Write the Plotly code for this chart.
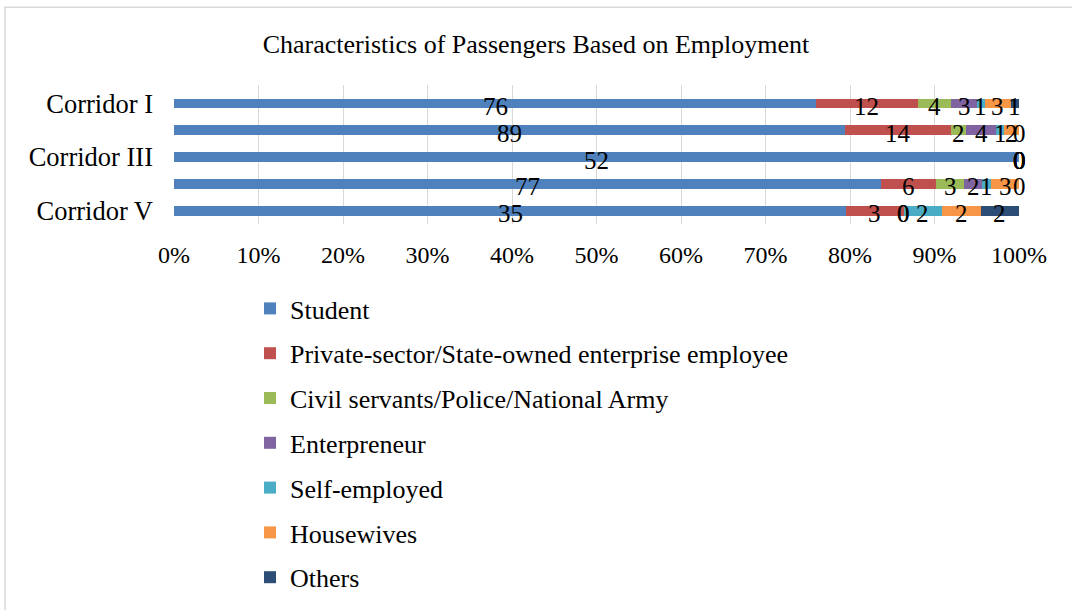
import plotly.graph_objects as go

# Passenger counts by employment type for each corridor
corridors = ["Corridor I", "Corridor II", "Corridor III", "Corridor IV", "Corridor V"]
shown_ticks = ["Corridor I", "Corridor III", "Corridor V"]

student = [76, 89, 52, 77, 35]
private_sector = [12, 14, 0, 6, 3]
civil_servants = [4, 2, 0, 3, 0]
entrepreneur = [3, 4, 0, 2, 0]
self_employed = [1, 1, 0, 1, 2]
housewives = [3, 2, 0, 3, 2]
others = [1, 0, 0, 0, 2]

series_names = [
    "Student",
    "Private-sector/State-owned enterprise employee",
    "Civil servants/Police/National Army",
    "Enterpreneur",
    "Self-employed",
    "Housewives",
    "Others",
]
series_values = [student, private_sector, civil_servants, entrepreneur,
                 self_employed, housewives, others]
colors = ["#4F81BD", "#C0504D", "#9BBB59", "#8064A2", "#4BACC6", "#F79646", "#2C4D75"]

pct_ticks = list(range(0, 101, 10))
pct_labels = [f"{t}%" for t in pct_ticks]

FONT = "Liberation Serif, Times New Roman, serif"

fig = go.Figure()
for name, vals, col in zip(series_names, series_values, colors):
    fig.add_trace(go.Bar(
        y=corridors, x=vals, name=name, orientation="h",
        marker=dict(color=col, line=dict(width=0)),
        legendgroup=name, hoverinfo="x+y+name",
    ))

# Centred value labels on each segment (positions follow the 100% stacking)
annotations = []
for i, cor in enumerate(corridors):
    total = sum(v[i] for v in series_values)
    cum = 0.0
    for vals in series_values:
        share = vals[i] / total * 100
        annotations.append(dict(
            x=cum + share / 2, y=cor, xref="x", yref="y",
            text=str(vals[i]), showarrow=False, yshift=-3,
            font=dict(family=FONT, size=25, color="#000000"),
        ))
        cum += share

# Plot-area geometry in pixels, used to place the outer frame
W, H = 1072, 610
L, R, T, B = 174, 1019, 85, 224.5
pw, ph = R - L, B - T

fig.update_layout(
    width=W, height=H,
    margin=dict(l=L, r=W - R, t=T, b=H - B, autoexpand=False),
    paper_bgcolor="white", plot_bgcolor="white",
    barmode="stack", barnorm="percent", bargap=0.63,
    title=dict(text="Characteristics of Passengers Based on Employment",
               x=0.5, xanchor="center", y=1 - 44 / H, yanchor="middle",
               font=dict(family=FONT, size=26, color="#000000")),
    font=dict(family=FONT, size=26, color="#000000"),
    xaxis=dict(range=[0, 100], tickvals=pct_ticks, ticktext=pct_labels,
               showgrid=True, gridcolor="#D9D9D9", gridwidth=1,
               zeroline=False, showline=False, ticks="",
               ticklabelstandoff=14, automargin=False,
               tickfont=dict(family=FONT, size=24, color="#000000"),
               fixedrange=True),
    yaxis=dict(type="category", categoryorder="array", categoryarray=corridors,
               autorange="reversed", tickvals=shown_ticks, ticks="",
               showgrid=False, zeroline=False, showline=False,
               ticklabelstandoff=20, automargin=False,
               tickfont=dict(family=FONT, size=26.5, color="#000000"),
               fixedrange=True),
    legend=dict(orientation="v", traceorder="grouped", tracegroupgap=8,
                xref="container", yref="container",
                x=250 / W, xanchor="left",
                y=1 - 285 / H, yanchor="top",
                maxheight=600,
                font=dict(family=FONT, size=26, color="#000000"),
                bgcolor="rgba(0,0,0,0)"),
    annotations=annotations,
    shapes=[dict(type="rect", xref="paper", yref="paper",
                 x0=(5 - L) / pw, x1=(1080 - L) / pw,
                 y0=(B - 620) / ph, y1=(B - 7) / ph,
                 line=dict(color="#D9D9D9", width=1.5),
                 fillcolor="rgba(0,0,0,0)", layer="below")],
    showlegend=True,
)

fig.write_html("out.html")
